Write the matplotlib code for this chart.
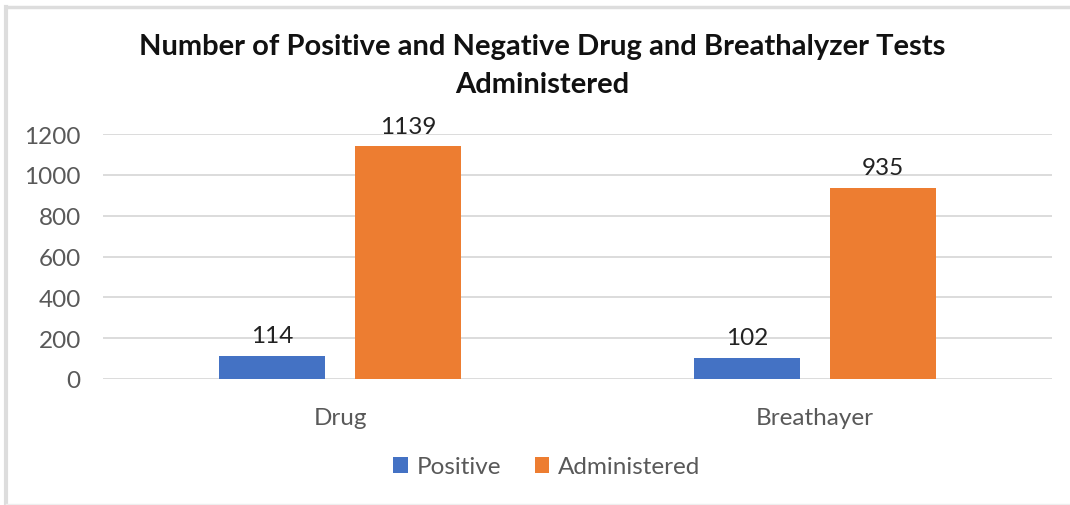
import numpy as np
import matplotlib.pyplot as plt
from matplotlib.lines import Line2D

# chart data
categories = ['Drug', 'Breathayer']
positive = [114, 102]
administered = [1139, 935]
yticks = [0, 200, 400, 600, 800, 1000, 1200]

plt.rcParams['font.family'] = ['Lato', 'DejaVu Sans']

fig = plt.figure(figsize=(10.70, 5.06), dpi=100)
ax = fig.add_axes([103/1070, 1 - 380/506, 949/1070, 245/506])

x = np.arange(len(categories))
w = 0.223
off = 0.143
b1 = ax.bar(x - off, positive, w, color='#4472C4', label='Positive', zorder=3)
b2 = ax.bar(x + off, administered, w, color='#ED7D31', label='Administered', zorder=3)

for bars in (b1, b2):
    ax.bar_label(bars, padding=7, fontsize=17.5, color='#222222')

ax.set_xlim(-0.5, 1.5)
ax.set_ylim(0, 1200)
ax.set_yticks(yticks)
ax.yaxis.grid(True, color='#D9D9D9', linewidth=1.3, zorder=0)
ax.set_axisbelow(True)
for s in ax.spines.values():
    s.set_visible(False)
ax.tick_params(axis='both', length=0, labelsize=17.5, labelcolor='#595959')
ax.tick_params(axis='y', pad=16)
ax.tick_params(axis='x', pad=20)
ax.set_xticks(x)
ax.set_xticklabels(categories)

fig.text(0.507, 1 - 66/506, 'Number of Positive and Negative Drug and Breathalyzer Tests\nAdministered',
         ha='center', va='center', fontsize=21, fontweight='bold', linespacing=1.55, color='#111111')

fig.legend(handles=[b1, b2], labels=['Positive', 'Administered'], loc='center',
           bbox_to_anchor=(0.511, 1 - 468/506), ncol=2, frameon=False, fontsize=17.5,
           handlelength=0.6, handleheight=0.6, handletextpad=0.35, columnspacing=1.4,
           labelcolor='#595959')

# chart border (top and left edges)
fig.add_artist(Line2D([6/1070, 1], [1 - 8/506, 1 - 8/506], color='#DDDDDD', lw=2.5, transform=fig.transFigure))
fig.add_artist(Line2D([6/1070, 6/1070], [0, 1 - 8/506], color='#DDDDDD', lw=3, transform=fig.transFigure))
fig.add_artist(Line2D([6/1070, 1], [1/506, 1/506], color='#EEEEEE', lw=1, transform=fig.transFigure))

fig.savefig('out.png', dpi=100)
